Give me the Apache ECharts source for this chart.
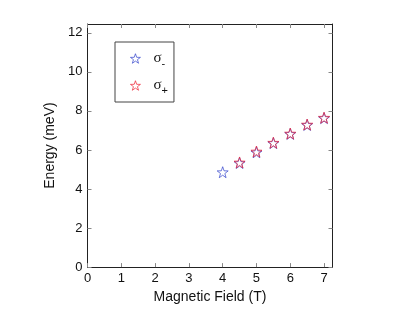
<!DOCTYPE html>
<html><head><meta charset="utf-8">
<script src="https://cdn.jsdelivr.net/npm/echarts@6/dist/echarts.min.js"></script>
<style>html,body{margin:0;padding:0;background:#fff}#c{width:407px;height:309px}</style>
</head><body><div id="c"></div>
<script>
const fieldMinus = [4, 4.5, 5, 5.5, 6, 6.5, 7];
const energyMinus = [4.86, 5.33, 5.88, 6.35, 6.82, 7.28, 7.63];
const fieldPlus = [4.5, 5, 5.5, 6, 6.5, 7];
const energyPlus = [5.36, 5.92, 6.37, 6.84, 7.3, 7.65];
const xTicks = [0, 1, 2, 3, 4, 5, 6, 7];
const yTicks = [0, 2, 4, 6, 8, 10, 12];

const star = 'path://M0,-10L2.35,-3.24L9.51,-3.09L3.8,1.24L5.88,8.09L0,4L-5.88,8.09L-3.8,1.24L-9.51,-3.09L-2.35,-3.24Z';
const font = 'Liberation Sans, Arial, Helvetica, sans-serif';
const serif = 'Liberation Serif, Times New Roman, serif';
const chart = echarts.init(document.getElementById('c'));
const tickStyle = {show: true, inside: true, length: 4, lineStyle: {color: '#888', width: 1}};
function ax(extra) { return Object.assign({type: 'value', min: 0, splitLine: {show: false}, axisLine: {show: true, onZero: false, lineStyle: {color: '#222', width: 1}}}, extra); }
chart.setOption({
  animation: false,
  grid: {left: 87.5, top: 24, right: 74.5, bottom: 40.5, show: false},
  xAxis: [
    ax({max: 7.25, interval: 1, name: 'Magnetic Field (T)', nameLocation: 'middle', nameGap: 21,
      nameTextStyle: {fontFamily: font, fontSize: 14, color: '#111'},
      axisTick: Object.assign({}, tickStyle, {customValues: xTicks}),
      axisLabel: {customValues: xTicks, fontFamily: font, fontSize: 13, color: '#111', margin: 5}}),
    ax({max: 7.25, position: 'top', axisTick: Object.assign({}, tickStyle, {customValues: xTicks}), axisLabel: {show: false}})
  ],
  yAxis: [
    ax({max: 12.45, interval: 2, name: 'Energy (meV)', nameLocation: 'middle', nameGap: 25,
      nameTextStyle: {fontFamily: font, fontSize: 14, color: '#111'},
      axisTick: Object.assign({}, tickStyle, {customValues: yTicks}),
      axisLabel: {customValues: yTicks, fontFamily: font, fontSize: 13, color: '#111', margin: 5}}),
    ax({max: 12.45, position: 'right', axisTick: Object.assign({}, tickStyle, {customValues: yTicks}), axisLabel: {show: false}})
  ],
  legend: {
    orient: 'vertical', left: 115, top: 42,
    padding: [9, 6, 6, 15], itemGap: 9, itemWidth: 10, itemHeight: 10,
    borderColor: '#444', borderWidth: 1, backgroundColor: '#fff',
    itemStyle: {color: 'transparent', borderWidth: 0.9},
    data: ['σ-', 'σ+'],
    formatter: function (n) { return '{a|σ}{b|' + (n === 'σ-' ? '-' : '+') + '}'; },
    textStyle: {padding: [0, 0, 0, 8], rich: {
      a: {fontFamily: serif, fontSize: 15, color: '#111', verticalAlign: 'middle'},
      b: {fontFamily: font, fontSize: 11, color: '#111', padding: [10, 0, 0, 0]}
    }}
  },
  series: [
    {name: 'σ-', type: 'scatter', symbol: star, symbolSize: 11,
      data: fieldMinus.map((x, i) => [x, energyMinus[i]]),
      itemStyle: {color: 'transparent', borderColor: '#3344cc', borderWidth: 0.9}},
    {name: 'σ+', type: 'scatter', symbol: star, symbolSize: 11,
      data: fieldPlus.map((x, i) => [x, energyPlus[i]]),
      itemStyle: {color: 'transparent', borderColor: '#ee2233', borderWidth: 0.9}}
  ]
});
</script></body></html>
